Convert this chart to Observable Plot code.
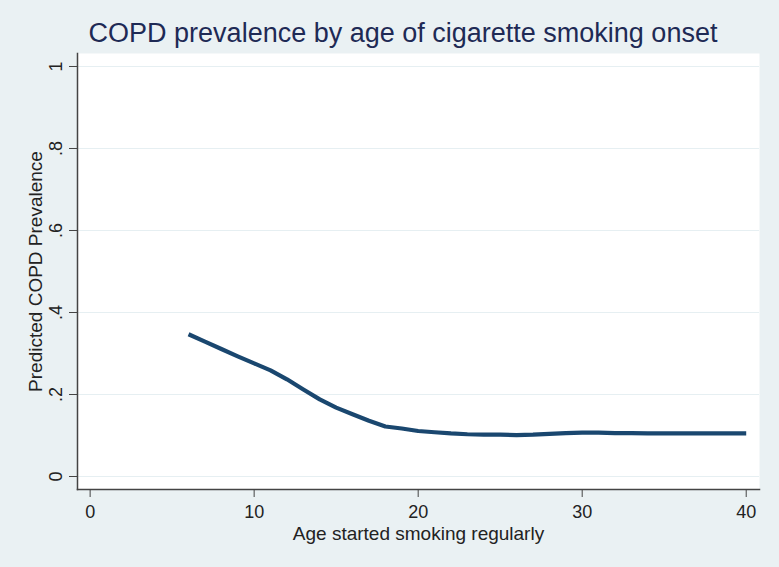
<!DOCTYPE html>
<html>
<head>
<meta charset="utf-8">
<script src="https://cdn.jsdelivr.net/npm/d3@7"></script>
<script src="https://cdn.jsdelivr.net/npm/@observablehq/plot@0.6"></script>
<style>
  html, body { margin: 0; padding: 0; background: #eaf1f3; }
  #wrap { position: relative; width: 779px; height: 567px; background: #eaf1f3; overflow: hidden; }
  #title { position: absolute; left: 0; top: 20px; width: 806px; text-align: center;
           font-family: "Liberation Sans", Arial, sans-serif; font-size: 27px; line-height: 27px;
           color: #1e2a55; white-space: nowrap; }
  #chart { position: absolute; left: 0; top: 53px; }
</style>
</head>
<body>
<div id="wrap">
  <div id="title">COPD prevalence by age of cigarette smoking onset</div>
  <div id="chart"></div>
</div>
<script>
const titleText = "COPD prevalence by age of cigarette smoking onset";
const xLabel = "Age started smoking regularly";
const yLabel = "Predicted COPD Prevalence";

const ages = [6, 7, 8, 9, 10, 11, 12, 13, 14, 15, 16, 17, 18, 19, 20, 21, 22, 23,
              24, 25, 26, 27, 28, 29, 30, 31, 32, 33, 34, 35, 36, 37, 38, 39, 40];
const prevalence = [0.347, 0.329, 0.311, 0.293, 0.276, 0.259, 0.237, 0.212, 0.188,
                    0.168, 0.152, 0.136, 0.122, 0.117, 0.111, 0.108, 0.105, 0.103,
                    0.102, 0.102, 0.101, 0.102, 0.104, 0.106, 0.107, 0.107, 0.106,
                    0.106, 0.105, 0.105, 0.105, 0.105, 0.105, 0.105, 0.105];

const xTicks = [0, 10, 20, 30, 40];
const yTicks = [0, 0.2, 0.4, 0.6, 0.8, 1];
const yTickLabels = ["0", ".2", ".4", ".6", ".8", "1"];

const data = ages.map((a, i) => ({age: a, prev: prevalence[i]}));
const yLabelData = yTicks.map((v, i) => ({v, label: yTickLabels[i]}));

const font = "Liberation Sans, Arial, sans-serif";

const plot = Plot.plot({
  width: 779,
  height: 514,
  marginTop: 0,
  marginLeft: 77,
  marginRight: 20,
  marginBottom: 78,
  x: {domain: [-0.77, 40.81]},
  y: {domain: [-0.0317, 1.0317]},
  style: {background: "transparent", fontFamily: font, color: "#222", overflow: "visible"},
  marks: [
    Plot.frame({fill: "white", stroke: null}),
    Plot.ruleY(yTicks, {stroke: "#e6eff2", strokeWidth: 1.2}),
    Plot.frame({anchor: "left", stroke: "#444", strokeWidth: 1.5}),
    Plot.frame({anchor: "bottom", stroke: "#444", strokeWidth: 1.5}),
    Plot.axisY({ticks: yTicks, tickSize: 8, tickFormat: () => "", label: null, stroke: "#444"}),
    Plot.text(yLabelData, {y: "v", text: "label", frameAnchor: "left", textAnchor: "middle",
                           lineAnchor: "middle", rotate: -90, dx: -21, fontSize: 18, fill: "#222"}),
    Plot.text([yLabel], {frameAnchor: "left", textAnchor: "middle", lineAnchor: "middle",
                         rotate: -90, dx: -42, fontSize: 19, fill: "#222"}),
    Plot.axisX({ticks: xTicks, tickSize: 8, tickPadding: 8, fontSize: 18, label: null, stroke: "#444"}),
    Plot.text([xLabel], {frameAnchor: "bottom", lineAnchor: "middle", dy: 44, fontSize: 19, fill: "#222"}),
    Plot.line(data, {x: "age", y: "prev", stroke: "#1a476f", strokeWidth: 4.2,
                     strokeLinejoin: "round", strokeLinecap: "butt"})
  ]
});
document.getElementById("chart").appendChild(plot);
</script>
</body>
</html>
